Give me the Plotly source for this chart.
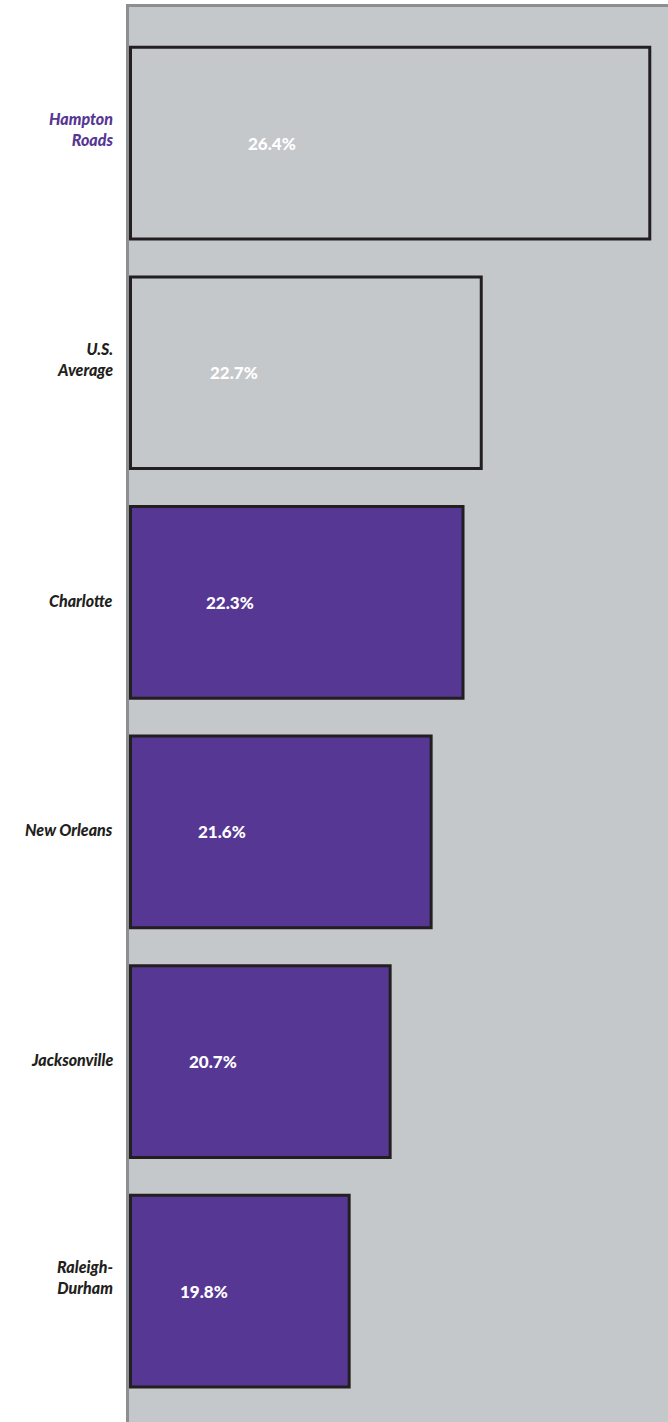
import plotly.graph_objects as go

categories = ["Hampton<br>Roads", "U.S.<br>Average", "Charlotte", "New Orleans", "Jacksonville", "Raleigh-<br>Durham"]
values = [26.4, 22.7, 22.3, 21.6, 20.7, 19.8]
value_labels = ["26.4%", "22.7%", "22.3%", "21.6%", "20.7%", "19.8%"]

BG = "#c5c8cb"
PURPLE = "#563794"
DARK = "#231f20"
AXIS_GRAY = "#8c8f92"
BASE = 15.0
FONT = "Lato, 'Open Sans', sans-serif"

bar_colors = [BG, BG] + [PURPLE] * 4
label_colors = [PURPLE] + [DARK] * 5

fig = go.Figure()
fig.add_trace(go.Bar(
    y=categories,
    x=[v - BASE for v in values],
    base=BASE,
    orientation="h",
    width=0.835,
    marker=dict(color=bar_colors, line=dict(color=DARK, width=3)),
    customdata=values,
    hovertemplate="%{y}: %{customdata}%<extra></extra>",
    cliponaxis=False,
))

annotations = []
for cat, v, lab in zip(categories, values, value_labels):
    annotations.append(dict(
        x=BASE + 0.51 + 0.228 * (v - BASE), y=cat, xref="x", yref="y",
        text=lab, showarrow=False, xanchor="center", yanchor="middle",
        font=dict(family=FONT, size=17, color="white", weight=900),
    ))
for cat, col in zip(categories, label_colors):
    nlines = cat.count("<br>") + 1
    annotations.append(dict(
        x=-0.026, y=cat, xref="paper", yref="y",
        text="<i>" + cat + "</i>", showarrow=False, xanchor="right", yanchor="middle",
        align="right", yshift=2 + 12 * (nlines - 1),
        font=dict(family=FONT, size=16, color=col, weight=900),
    ))

fig.update_layout(
    width=668, height=1422,
    margin=dict(l=129, r=0, t=7, b=0),
    paper_bgcolor="white",
    plot_bgcolor=BG,
    showlegend=False,
    annotations=annotations,
    xaxis=dict(range=[14.967, 26.80], showgrid=False, zeroline=False,
               showticklabels=False, ticks="", side="top",
               showline=True, linecolor=AXIS_GRAY, linewidth=3),
    yaxis=dict(type="category", categoryarray=categories, categoryorder="array",
               range=[5.57, -0.593], showgrid=False, zeroline=False,
               showticklabels=False, ticks="",
               showline=True, linecolor=AXIS_GRAY, linewidth=3),
)

fig.write_html(
    "out.html",
    config={"displayModeBar": False},
    post_script="document.body.style.margin='0';document.body.style.overflow='hidden';",
)
